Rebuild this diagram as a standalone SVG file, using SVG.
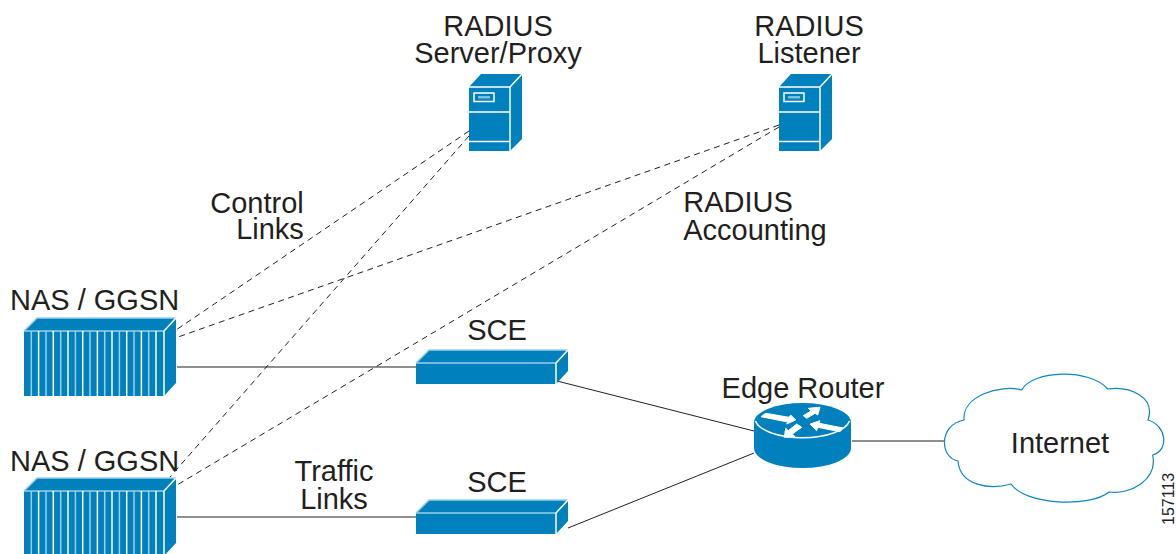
<svg xmlns="http://www.w3.org/2000/svg" width="1176" height="554" viewBox="0 0 1176 554">
<style>
text{font-family:"Liberation Sans",Arial,sans-serif;font-size:29px;fill:#231f20}
.m{text-anchor:middle}
.c{fill:none;stroke:#231f20;stroke-width:1}
.d{stroke-dasharray:6 4.5}
.b{fill:#0080bc}
.e{fill:none;stroke:#fff;stroke-width:1.5}
.l{fill:none;stroke:#9ad0e8;stroke-width:1.5}
.a{fill:#fff;stroke:#fff;stroke-width:1;stroke-linejoin:round}
</style>
<defs>
<g id="nas">
<path class="b" d="M24 13L37 0H176V65L164 78H24Z"/>
<path class="l" d="M24 13L37 0H176M24 13H164"/>
<path class="e" d="M164 13L176 0"/>
<path d="M31.300 13V78M46 13V78M60.700 13V78M75.400 13V78M90 13V78M104.700 13V78M119.400 13V78M134 13V78M148.700 13V78" stroke="#9ad0e8" stroke-width="1.500" fill="none"/>
<path d="M38.600 13V78M53.300 13V78M68 13V78M82.700 13V78M97.400 13V78M112 13V78M126.700 13V78M141.400 13V78M156 13V78M164 13V78" stroke="#fff" stroke-width="1.500" fill="none"/>
</g>
<g id="server">
<path class="b" d="M469 87L481 74H522V139L510 151H469Z"/>
<path class="e" d="M469 87H510V151M510 87L522 74M469 112H510M469 141.500H510"/>
<rect x="474" y="93" width="20" height="8.500" class="e" stroke-width="1"/>
<rect x="478" y="96" width="12" height="2.500" fill="#7cc0de"/>
</g>
<g id="sce">
<path class="b" d="M416 13L429 0H568V21L556 34H416Z"/>
<path class="l" d="M416 13L429 0H568M416 13H556"/>
<path class="e" d="M556 13V34M556 13L568 0"/>
</g>
</defs>
<g id="connectors">
<path class="c" d="M177 367H416M177 517H416M557 381L754 431M568 528L754 453M852 441H944"/>
<path class="c d" d="M469 131L176 330M469 136L170 477M779 125L178 337M779 127L177 485"/>
</g>
<g id="radius-proxy"><use href="#server"/><text class="m" x="498" y="36">RADIUS</text><text class="m" x="498" y="63">Server/Proxy</text></g>
<g id="radius-listener"><use href="#server" x="310"/><text class="m" x="809" y="36">RADIUS</text><text class="m" x="809" y="63">Listener</text></g>
<g id="nas1"><use href="#nas" y="318"/><text x="10" y="310">NAS / GGSN</text></g>
<g id="nas2"><use href="#nas" y="478"/><text x="10" y="471">NAS / GGSN</text></g>
<g id="sce1"><use href="#sce" y="350"/><text class="m" x="497" y="340">SCE</text></g>
<g id="sce2"><use href="#sce" y="500"/><text class="m" x="497" y="492">SCE</text></g>
<g id="router">
<path class="b" d="M754 422V448A48.500 20 0 0 0 851 448V422Z"/>
<ellipse class="b" cx="802.500" cy="422.500" rx="48.500" ry="19.500"/>
<path class="e" d="M755.500 421A47.500 19.500 0 0 0 849.500 421"/>
<path class="a" d="M765.700 413.300L789 417.300L790.700 415L795.700 420L786.700 424L787.700 422L761 416.700Z"/>
<path class="a" d="M820 407.300L808.300 408.300L811 411L803.300 415.700L806.700 418.300L815 413.300L817.700 415Z"/>
<path class="a" d="M810 424L820 420.700L819 423.300L843.300 428L840 431.700L817.700 427.300L816.700 430.700Z"/>
<path class="a" d="M784.300 437.300L785.700 428.300L788.300 430.700L796.700 424L801.700 427.300L792.300 434L795 436.700Z"/>
<text class="m" x="803" y="398">Edge Router</text>
</g>
<g id="internet">
<path fill="#fff" stroke="#0b86c0" stroke-width="1.200" d="M1021.700 390C1032 370 1090 368 1107.700 389C1130 386 1156 397 1148 420C1166 425 1170 450 1152.700 455C1158 480 1130 495 1109 492C1090 508 1025 505 1011 484C990 490 960 486 958 461C940 458 938 425 964 420C962 396 1000 384 1021.700 390Z"/>
<text class="m" x="1060" y="453">Internet</text>
</g>
<g id="labels">
<text class="m" x="257" y="213">Control</text>
<text class="m" x="270" y="239">Links</text>
<text class="m" x="738" y="212">RADIUS</text>
<text class="m" x="755" y="240">Accounting</text>
<text class="m" x="334" y="481">Traffic</text>
<text class="m" x="334" y="509">Links</text>
<text transform="translate(1173.500 525) rotate(-90)" style="font-size:16px">157113</text>
</g>
</svg>
